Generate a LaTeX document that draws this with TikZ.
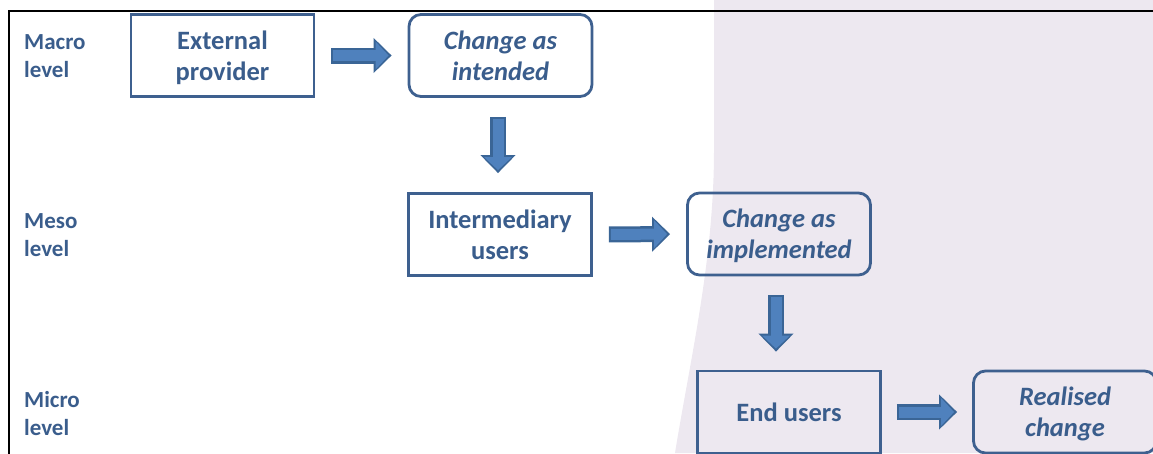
\documentclass[tikz,border=0pt]{standalone}
\usepackage{fontspec}
\setmainfont{Carlito}
\usepackage{tikz}
\usetikzlibrary{arrows.meta}
\definecolor{boxline}{RGB}{62,96,143}
\definecolor{lvltext}{RGB}{58,93,140}
\definecolor{arrfill}{RGB}{79,129,189}
\definecolor{arredge}{RGB}{58,101,150}
\definecolor{lavender}{RGB}{237,232,240}

\begin{document}
\begin{tikzpicture}[x=1pt, y=-1pt,
  level/.style={anchor=north west, inner sep=0pt, align=left, text=lvltext,
    font=\fontsize{23}{28}\selectfont\bfseries},
  actor/.style={draw=boxline, line width=2.8pt, minimum width=183pt, minimum height=82pt,
    inner sep=0pt, align=center, text=lvltext, font=\fontsize{26.5}{31}\selectfont\bfseries,
    text depth=0pt},
  outcome/.style={actor, rounded corners=12pt, font=\fontsize{26.5}{31}\selectfont\bfseries\itshape},
  flowout/.style={draw=arredge, line width=16pt, -{Triangle[width=34pt,length=18pt]}},
  flowin/.style={draw=arrfill, line width=11pt, -{Triangle[width=27pt,length=13pt]}}]
  \useasboundingbox (0,0) rectangle (1153,453);

  % slide background and frame
  \fill[lavender] (714,0) -- (714,150) .. controls (714,260) and (690,360) .. (675,453)
    -- (1153,453) -- (1153,0) -- cycle;
  \draw[line width=1.8pt] (9,460) -- (9,11) -- (1160,11);

  \node[level] (macro) at (24,34)  {Macro\\level};
  \node[level] (meso)  at (24,213) {Meso\\level};
  \node[level] (micro) at (24,391) {Micro\\level};

  \node[actor]   (ext)  at (222.5,55.5) {External\\provider};
  \node[outcome] (cai)  at (500.5,55.5) {Change as\\intended};
  \node[actor]   (int)  at (500,234.5)  {Intermediary\\users};
  \node[outcome] (imp)  at (779,234)    {Change as\\implemented};
  \node[actor]   (endu) at (789,412)    {End users};
  \node[outcome] (real) at (1065,412)   {Realised\\change};

  \coordinate (d1) at ([xshift=-2.5pt]cai.south);
  \coordinate (d2) at ([xshift=-3pt]imp.south);

  % block arrows
  \draw[flowout, shorten <=16pt, shorten >=16pt] (ext.east) -- (cai.west);
  \draw[flowin,  shorten <=18pt, shorten >=19pt] (ext.east) -- (cai.west);
  \draw[flowout, shorten <=19pt, shorten >=19pt] (d1) -- (d1 |- int.north);
  \draw[flowin,  shorten <=21pt, shorten >=22pt] (d1) -- (d1 |- int.north);
  \draw[flowout, shorten <=16pt, shorten >=16pt] (int.east) -- (imp.west);
  \draw[flowin,  shorten <=18pt, shorten >=19pt] (int.east) -- (imp.west);
  \draw[flowout, shorten <=19pt, shorten >=18pt] (d2) -- (d2 |- endu.north);
  \draw[flowin,  shorten <=21pt, shorten >=21pt] (d2) -- (d2 |- endu.north);
  \draw[flowout, shorten <=15pt, shorten >=15pt] (endu.east) -- (real.west);
  \draw[flowin,  shorten <=17pt, shorten >=18pt] (endu.east) -- (real.west);
\end{tikzpicture}
\end{document}
